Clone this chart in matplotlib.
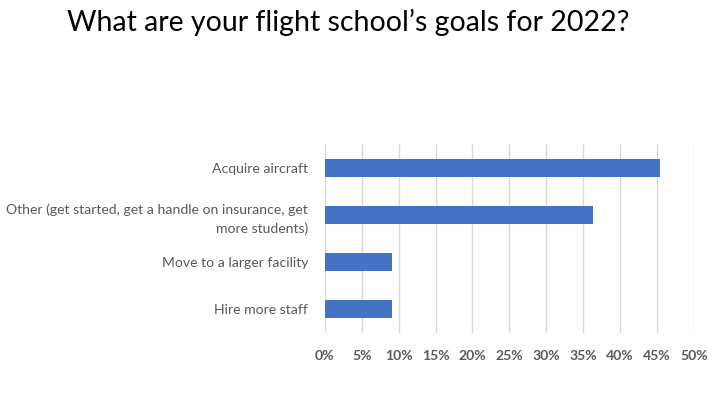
import matplotlib
matplotlib.use("Agg")
import matplotlib.pyplot as plt
from matplotlib.ticker import FuncFormatter

categories = ["Acquire aircraft",
              "Other (get started, get a handle on insurance, get\nmore students)",
              "Move to a larger facility",
              "Hire more staff"]
values = [0.4545, 0.3636, 0.0909, 0.0909]
ticks = [i * 0.05 for i in range(11)]
title = "What are your flight school\u2019s goals for 2022?"

plt.rcParams['font.family'] = ['Lato', 'DejaVu Sans']
fig = plt.figure(figsize=(7.2, 4.05), dpi=100)
ax = fig.add_axes([0.451, 0.178, 0.513, 0.466])

y = list(range(len(categories)))
ax.barh(y, values, height=0.38, color="#4472C4", zorder=3)
ax.set_ylim(len(categories) - 0.5, -0.5)
ax.set_xlim(0, 0.5)
ax.set_xticks(ticks)
ax.xaxis.set_major_formatter(FuncFormatter(lambda v, p: f"{round(v*100)}%"))
ax.set_yticks(y)
ax.set_yticklabels(categories, ha="right", linespacing=1.6)
ax.grid(axis="x", color="#d9d9d9", linewidth=1, zorder=0)
for s in ax.spines.values():
    s.set_visible(False)
ax.tick_params(axis="both", length=0, colors="#595959", labelsize=10.1)
ax.tick_params(axis="x", pad=12)
ax.tick_params(axis="y", pad=12)
for lab in ax.get_xticklabels():
    lab.set_fontweight("bold")

fig.text(0.483, 0.945, title, ha="center", va="center", fontsize=20.5, color="black")
fig.savefig("out.png", dpi=100)
